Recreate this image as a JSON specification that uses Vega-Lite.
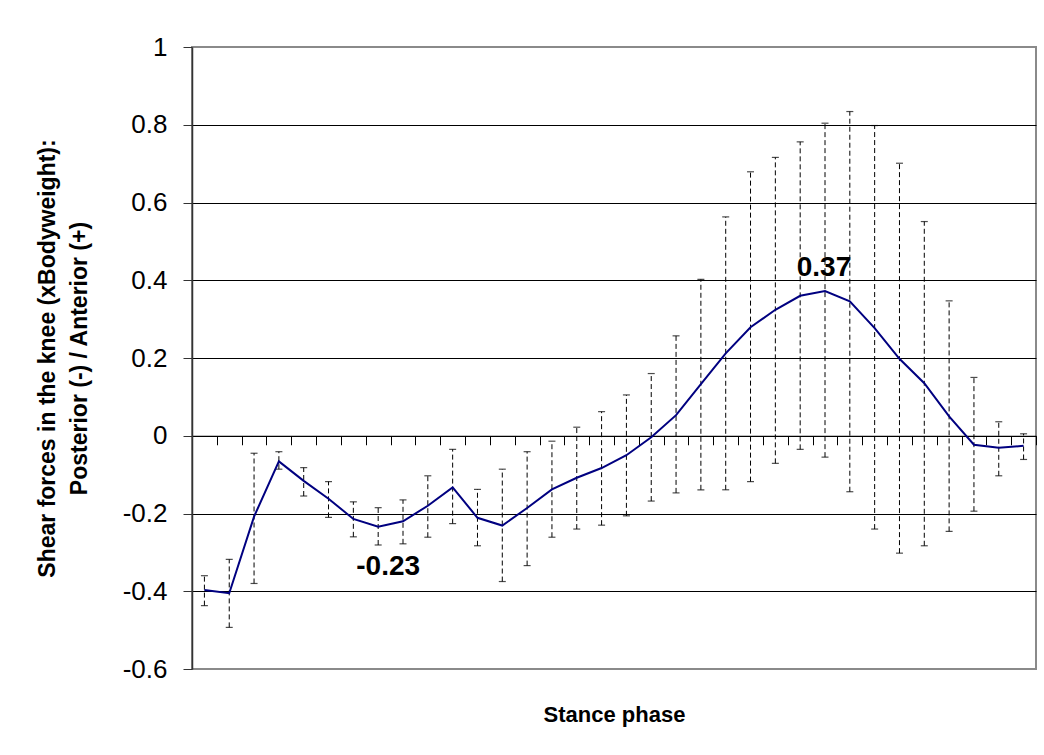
{
  "$schema": "https://vega.github.io/schema/vega-lite/v6.json",
  "width": 844,
  "height": 622,
  "autosize": {"type": "none"},
  "padding": {"left": 192, "top": 47, "right": 8, "bottom": 86},
  "background": "white",
  "config": {
    "font": "Liberation Sans",
    "locale": {
      "number": {"decimal": ".", "thousands": ",", "grouping": [3], "currency": ["$", ""], "minus": "-"}
    },
    "view": {"stroke": "#8a8a8a", "strokeWidth": 2}
  },
  "data": {
    "values": [
      {"phase": 1, "mean": -0.397, "lo": -0.437, "hi": -0.360},
      {"phase": 2, "mean": -0.405, "lo": -0.493, "hi": -0.318},
      {"phase": 3, "mean": -0.208, "lo": -0.380, "hi": -0.045},
      {"phase": 4, "mean": -0.066, "lo": -0.086, "hi": -0.041},
      {"phase": 5, "mean": -0.116, "lo": -0.155, "hi": -0.082},
      {"phase": 6, "mean": -0.162, "lo": -0.210, "hi": -0.118},
      {"phase": 7, "mean": -0.214, "lo": -0.260, "hi": -0.170},
      {"phase": 8, "mean": -0.234, "lo": -0.281, "hi": -0.185},
      {"phase": 9, "mean": -0.220, "lo": -0.278, "hi": -0.165},
      {"phase": 10, "mean": -0.180, "lo": -0.261, "hi": -0.103},
      {"phase": 11, "mean": -0.133, "lo": -0.226, "hi": -0.035},
      {"phase": 12, "mean": -0.211, "lo": -0.283, "hi": -0.138},
      {"phase": 13, "mean": -0.231, "lo": -0.375, "hi": -0.086},
      {"phase": 14, "mean": -0.186, "lo": -0.334, "hi": -0.041},
      {"phase": 15, "mean": -0.138, "lo": -0.261, "hi": -0.014},
      {"phase": 16, "mean": -0.108, "lo": -0.240, "hi": 0.022},
      {"phase": 17, "mean": -0.083, "lo": -0.230, "hi": 0.062},
      {"phase": 18, "mean": -0.050, "lo": -0.206, "hi": 0.105},
      {"phase": 19, "mean": -0.004, "lo": -0.168, "hi": 0.160},
      {"phase": 20, "mean": 0.053, "lo": -0.147, "hi": 0.257},
      {"phase": 21, "mean": 0.133, "lo": -0.139, "hi": 0.402},
      {"phase": 22, "mean": 0.212, "lo": -0.139, "hi": 0.563},
      {"phase": 23, "mean": 0.279, "lo": -0.118, "hi": 0.679},
      {"phase": 24, "mean": 0.324, "lo": -0.071, "hi": 0.716},
      {"phase": 25, "mean": 0.360, "lo": -0.035, "hi": 0.756},
      {"phase": 26, "mean": 0.372, "lo": -0.055, "hi": 0.804},
      {"phase": 27, "mean": 0.346, "lo": -0.144, "hi": 0.834},
      {"phase": 28, "mean": 0.277, "lo": -0.240, "hi": 0.798},
      {"phase": 29, "mean": 0.198, "lo": -0.302, "hi": 0.701},
      {"phase": 30, "mean": 0.135, "lo": -0.283, "hi": 0.551},
      {"phase": 31, "mean": 0.050, "lo": -0.246, "hi": 0.347},
      {"phase": 32, "mean": -0.023, "lo": -0.194, "hi": 0.150},
      {"phase": 33, "mean": -0.031, "lo": -0.103, "hi": 0.036},
      {"phase": 34, "mean": -0.026, "lo": -0.061, "hi": 0.005}
    ]
  },
  "encoding": {
    "x": {
      "field": "phase",
      "type": "quantitative",
      "scale": {"domain": [0.5, 34.5], "nice": false, "zero": false},
      "axis": {
        "values": [0.5, 1.5, 2.5, 3.5, 4.5, 5.5, 6.5, 7.5, 8.5, 9.5, 10.5, 11.5, 12.5, 13.5, 14.5, 15.5, 16.5, 17.5, 18.5, 19.5, 20.5, 21.5, 22.5, 23.5, 24.5, 25.5, 26.5, 27.5, 28.5, 29.5, 30.5, 31.5, 32.5, 33.5, 34.5],
        "labels": false,
        "grid": false,
        "offset": -233.25,
        "domainColor": "black",
        "domainWidth": 1,
        "tickColor": "black",
        "tickWidth": 1,
        "tickSize": 9,
        "title": "Stance phase",
        "titleFont": "Liberation Sans",
        "titleFontSize": 22,
        "titleFontWeight": "bold",
        "titleColor": "black",
        "titleY": 279,
        "titleBaseline": "middle"
      }
    }
  },
  "layer": [
    {
      "mark": {"type": "rule", "color": "black", "strokeWidth": 1, "strokeDash": [5, 3]},
      "encoding": {
        "y": {
          "field": "lo",
          "type": "quantitative",
          "scale": {"domain": [-0.6, 1], "nice": false, "zero": false},
          "axis": {
            "values": [-0.6, -0.4, -0.2, 0, 0.2, 0.4, 0.6, 0.8, 1],
            "format": ".1~f",
            "labelFont": "Liberation Sans",
            "labelFontSize": 26,
            "labelColor": "black",
            "labelPadding": 16,
            "labelOverlap": false,
            "labelFlush": false,
            "tickSize": 9,
            "tickColor": "#333333",
            "tickWidth": 1,
            "domainColor": "#333333",
            "domainWidth": 1.5,
            "grid": true,
            "gridColor": "black",
            "gridWidth": 1,
            "gridOpacity": {"condition": {"test": "datum.value > 0.99 || datum.value < -0.59", "value": 0}, "value": 1},
            "title": ["Shear forces in the knee (xBodyweight):", "Posterior (-) / Anterior (+)"],
            "titleFont": "Liberation Sans",
            "titleFontSize": 23,
            "titleFontWeight": "bold",
            "titleColor": "black",
            "titleAngle": -90,
            "titleAlign": "center",
            "titleBaseline": "middle",
            "titleLineHeight": 32,
            "titleX": -145,
            "titleY": 311
          }
        },
        "y2": {"field": "hi"}
      }
    },
    {
      "mark": {"type": "tick", "orient": "horizontal", "size": 7, "thickness": 1.2, "color": "black"},
      "encoding": {"y": {"field": "lo", "type": "quantitative"}}
    },
    {
      "mark": {"type": "tick", "orient": "horizontal", "size": 7, "thickness": 1.2, "color": "black"},
      "encoding": {"y": {"field": "hi", "type": "quantitative"}}
    },
    {
      "mark": {"type": "line", "color": "#000080", "strokeWidth": 2},
      "encoding": {"y": {"field": "mean", "type": "quantitative"}}
    },
    {
      "transform": [{"filter": "datum.phase === 8"}],
      "mark": {"type": "text", "font": "Liberation Sans", "fontSize": 28, "fontWeight": "bold", "color": "black", "align": "center", "baseline": "middle", "dx": 10, "dy": 40},
      "encoding": {
        "y": {"field": "mean", "type": "quantitative"},
        "text": {"field": "mean", "type": "quantitative", "format": ".2f"}
      }
    },
    {
      "transform": [{"filter": "datum.phase === 26"}],
      "mark": {"type": "text", "font": "Liberation Sans", "fontSize": 28, "fontWeight": "bold", "color": "black", "align": "center", "baseline": "middle", "dx": -1, "dy": -23},
      "encoding": {
        "y": {"field": "mean", "type": "quantitative"},
        "text": {"field": "mean", "type": "quantitative", "format": ".2f"}
      }
    }
  ]
}
